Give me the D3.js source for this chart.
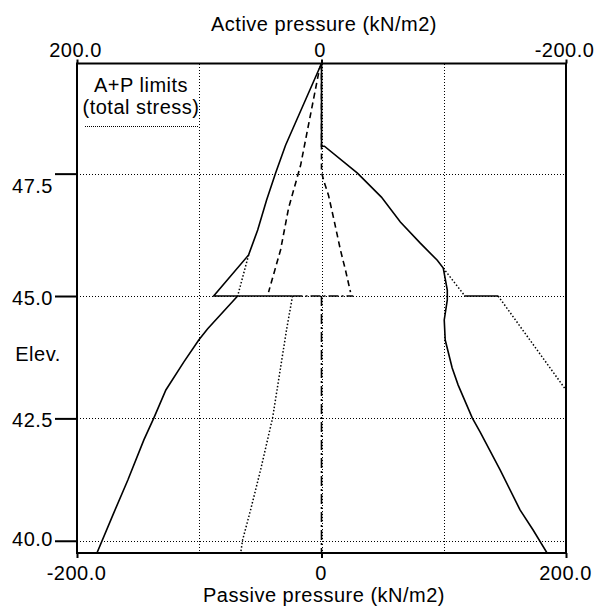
<!DOCTYPE html>
<html>
<head>
<meta charset="utf-8">
<script src="https://cdn.jsdelivr.net/npm/d3@7"></script>
<style>
  html, body { margin: 0; padding: 0; background: #fff; }
  svg text { font-family: "Liberation Sans", Arial, sans-serif; font-size: 20px; fill: #000; letter-spacing: 0.5px; }
</style>
</head>
<body>
<svg id="chart" width="595" height="612"></svg>
<script>
// ---------- data ----------
const elevTicks = [47.5, 45.0, 42.5, 40.0];
const elevTickLabels = ["47.5", "45.0", "42.5", "40.0"];
const activeTicks = [200, 0, -200];
const activeTickLabels = ["200.0", "0", "-200.0"];
const passiveTicks = [-200, 0, 200];
const passiveTickLabels = ["-200.0", "0", "200.0"];
const gridPressures = [-100, 0, 100];
const gridElevs = [47.5, 45.0, 42.5, 40.0];

const titleTop = "Active pressure (kN/m2)";
const titleBottom = "Passive pressure (kN/m2)";
const titleLeft = "Elev.";
const legendLines = ["A+P limits", "(total stress)"];

// [pressure, elevation] — active series read on the top axis
const activeUpperSolid = [[0,49.75],[29.4,48.08],[37.6,47.51],[44.9,46.96],[52.2,46.35],[59.6,45.84],[88.2,45.0],[23.7,45.0]];
const activeKinkDotted = [[59.6,45.84],[68.6,45.0]];
const activeLowerSolid = [[68.6,45.0],[93.1,44.33],[100.4,44.10],[112.7,43.65],[127.3,43.08],[137.1,42.51],[145.3,42.06],[158.4,41.24],[170.6,40.53],[183.7,39.75]];
const activeLowerDotted = [[23.7,45.0],[28.6,44.31],[40.0,42.51],[49.8,41.45],[58.0,40.63],[64.5,40.02],[66.1,39.75]];
const activeDashed = [[0,49.75],[1.6,49.65],[17.1,47.67],[26.9,46.80],[33.5,45.94],[43.3,45.08]];

// passive series read on the bottom axis
const passiveSolid = [[0,49.75],[0,48.06],[2.4,48.06],[29.4,47.51],[49.0,47.02],[64.5,46.51],[80.8,46.08],[94.7,45.73],[99.6,45.57],[102.9,45.12],[102.9,44.92],[100.4,44.51],[101.2,44.10],[106.9,43.53],[111.8,43.18],[123.3,42.51],[129.8,42.22],[146.1,41.45],[162.4,40.63],[173.1,40.22],[184.5,39.75]];
const passiveUpperDotted = [[99.6,45.57],[116.7,45.02]];
const passiveStepSolid = [[116.7,45.0],[144.5,45.0]];
const passiveLowerDotted = [[144.5,45.0],[200,43.08]];
const passiveDashed = [[0,49.75],[0,47.53],[2.4,47.31],[5.7,47.06],[10.6,46.51],[15.5,45.94],[19.6,45.53],[23.7,45.08]];
const wallHorizontal = [[-23.7,45.0],[26.0,45.0]];
const wallVertical = [[0,45.0],[0,39.75]];

// ---------- layout ----------
const L = 77, R = 566, T = 63.5, B = 553;
const svg = d3.select("#chart");

const xTop = d3.scaleLinear().domain([200, -200]).range([L, R]);
const xBot = d3.scaleLinear().domain([-200, 200]).range([L, R]);
const y = d3.scaleLinear().domain([39.75, 49.75]).range([B, T]);

svg.append("defs").append("clipPath").attr("id", "plotclip")
  .append("rect").attr("x", L).attr("y", T).attr("width", R - L).attr("height", B - T);

// gridlines
const grid = svg.append("g").attr("stroke", "#000").attr("stroke-width", 1)
  .attr("stroke-dasharray", "1,2").attr("shape-rendering", "crispEdges");
grid.selectAll("line.v").data(gridPressures).join("line")
  .attr("x1", d => Math.round(xBot(d)) + 0.5).attr("x2", d => Math.round(xBot(d)) + 0.5)
  .attr("y1", Math.round(T)).attr("y2", Math.round(B));
grid.selectAll("line.h").data(gridElevs).join("line")
  .attr("y1", d => Math.round(y(d)) + 0.5).attr("y2", d => Math.round(y(d)) + 0.5)
  .attr("x1", L).attr("x2", R);

// series
const plot = svg.append("g").attr("clip-path", "url(#plotclip)").attr("fill", "none").attr("stroke", "#000");
const lineTop = d3.line().x(d => xTop(d[0])).y(d => y(d[1]));
const lineBot = d3.line().x(d => xBot(d[0])).y(d => y(d[1]));

const styles = {
  solid: { w: 1.6, dash: null },
  dotted: { w: 1.5, dash: "1.5,2" },
  dashed: { w: 1.6, dash: "6,4" },
  dashdot: { w: 1.6, dash: "10,3,2,3" }
};
function draw(data, gen, style) {
  const s = styles[style];
  const p = plot.append("path").attr("d", gen(data)).attr("stroke-width", s.w);
  if (s.dash) p.attr("stroke-dasharray", s.dash);
}
draw(wallHorizontal, lineBot, "dashdot");
draw(wallVertical, lineBot, "dashdot");
draw(activeDashed, lineTop, "dashed");
draw(passiveDashed, lineBot, "dashed");
draw(activeKinkDotted, lineTop, "dotted");
draw(activeLowerDotted, lineTop, "dotted");
draw(passiveUpperDotted, lineBot, "dotted");
draw(passiveLowerDotted, lineBot, "dotted");
draw(activeUpperSolid, lineTop, "solid");
draw(activeLowerSolid, lineTop, "solid");
draw(passiveSolid, lineBot, "solid");
draw(passiveStepSolid, lineBot, "solid");

// frame
svg.append("rect").attr("x", L).attr("y", T).attr("width", R - L).attr("height", B - T)
  .attr("fill", "none").attr("stroke", "#000").attr("stroke-width", 2);

// axes
const topAxis = svg.append("g").attr("transform", `translate(0,${T})`)
  .call(d3.axisTop(xTop).tickValues(activeTicks).tickFormat((d, i) => activeTickLabels[i]).tickSize(4).tickPadding(2));
const botAxis = svg.append("g").attr("transform", `translate(0,${B})`)
  .call(d3.axisBottom(xBot).tickValues(passiveTicks).tickFormat((d, i) => passiveTickLabels[i]).tickSize(5).tickPadding(9));
const leftAxis = svg.append("g").attr("transform", `translate(${L},0)`)
  .call(d3.axisLeft(y).tickValues(elevTicks).tickFormat((d, i) => elevTickLabels[i]).tickSize(22).tickPadding(2));

[topAxis, botAxis, leftAxis].forEach(g => {
  g.select(".domain").remove();
  g.selectAll(".tick line").attr("stroke", "#000").attr("stroke-width", 2);
  g.selectAll(".tick text").attr("fill", "#000").style("font-size", "20px")
    .attr("font-family", null).attr("font-size", null);
});
topAxis.selectAll(".tick text").attr("dy", null).attr("y", -6.5).attr("dx", -2);
botAxis.selectAll(".tick text").attr("dy", null).attr("y", 27).attr("dx", -1);
// keep outermost elevation labels inside the frame's height
leftAxis.selectAll(".tick text").attr("dy", null)
  .attr("y", d => Math.min(Math.max(y(d) + 8, T + 129), B - 8) - y(d));

// titles
svg.append("text").attr("x", 324).attr("y", 31).attr("text-anchor", "middle").text(titleTop);
svg.append("text").attr("x", 324).attr("y", 602).attr("text-anchor", "middle").text(titleBottom);
svg.append("text").attr("x", 38).attr("y", 361).attr("text-anchor", "middle").text(titleLeft);

// legend
svg.append("text").attr("x", 141).attr("y", 92).attr("text-anchor", "middle").text(legendLines[0]);
svg.append("text").attr("x", 141).attr("y", 114).attr("text-anchor", "middle").text(legendLines[1]);
svg.append("line").attr("x1", 85).attr("x2", 198).attr("y1", 126.5).attr("y2", 126.5)
  .attr("stroke", "#000").attr("stroke-width", 1).attr("stroke-dasharray", "1,1")
  .attr("shape-rendering", "crispEdges");
</script>
</body>
</html>
